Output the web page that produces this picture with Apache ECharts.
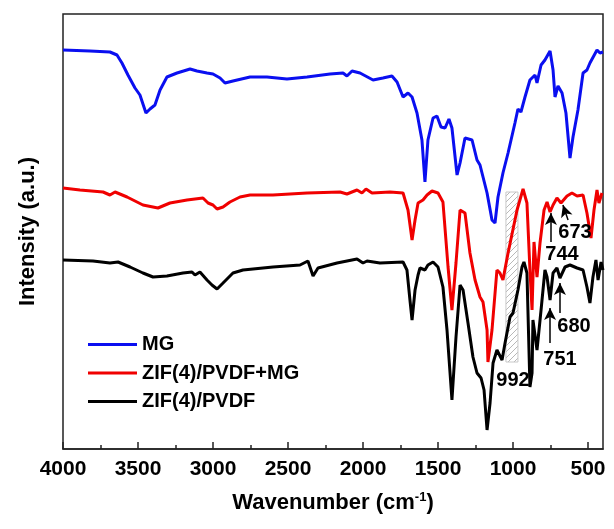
<!DOCTYPE html>
<html>
<head>
<meta charset="utf-8">
<script src="https://cdn.jsdelivr.net/npm/echarts@6/dist/echarts.min.js"></script>
<style>
  html, body { margin: 0; padding: 0; background: #fff; }
  #app { width: 614px; height: 529px; }
</style>
</head>
<body>
<div id="app"></div>
<script>
// wavenumber (cm-1) / intensity (a.u., arbitrary offset) pairs
const mgData = [
  [4000, 399], [3820, 398], [3687, 397], [3640, 394], [3607, 386], [3567, 374],
  [3520, 361], [3487, 354], [3447, 336], [3420, 340], [3387, 344], [3353, 359],
  [3307, 372], [3240, 376], [3153, 380], [3107, 378], [3040, 376], [3000, 375],
  [2953, 371], [2920, 366], [2867, 368], [2753, 372], [2640, 372], [2507, 370],
  [2373, 372], [2220, 375], [2133, 376], [2107, 373], [2073, 378], [2020, 376],
  [1933, 369], [1867, 371], [1807, 373], [1773, 367], [1733, 352], [1700, 356],
  [1673, 352], [1640, 336], [1607, 309], [1587, 267], [1567, 309], [1533, 331],
  [1507, 333], [1480, 322], [1453, 321], [1427, 330], [1407, 321], [1373, 274],
  [1353, 286], [1320, 311], [1273, 309], [1240, 289], [1220, 284], [1173, 256],
  [1140, 229], [1120, 226], [1100, 252], [1067, 276], [1033, 296], [987, 326],
  [967, 340], [947, 337], [920, 352], [887, 369], [853, 374], [840, 366],
  [813, 384], [787, 389], [753, 398], [733, 379], [720, 352], [700, 363],
  [673, 356], [647, 336], [620, 291], [600, 312], [567, 339], [533, 376],
  [507, 379], [487, 386], [440, 399], [420, 396], [400, 397]
];

const zifMgData = [
  [4000, 261], [3887, 259], [3733, 257], [3687, 254], [3653, 257], [3573, 252],
  [3467, 244], [3367, 241], [3287, 246], [3173, 249], [3067, 251], [3033, 246],
  [3000, 244], [2973, 240], [2933, 242], [2887, 247], [2820, 252], [2753, 254],
  [2600, 254], [2373, 256], [2153, 257], [2107, 255], [2040, 259], [2007, 256],
  [1980, 260], [1940, 256], [1820, 257], [1733, 256], [1700, 239], [1673, 209],
  [1653, 229], [1633, 246], [1600, 249], [1573, 254], [1540, 258], [1500, 256],
  [1467, 247], [1433, 182], [1407, 139], [1380, 186], [1353, 239], [1320, 236],
  [1287, 196], [1253, 169], [1220, 152], [1200, 147], [1173, 119], [1167, 87],
  [1140, 119], [1107, 179], [1087, 176], [1067, 169], [1033, 196], [973, 239],
  [933, 260], [907, 246], [887, 179], [873, 139], [860, 207], [840, 172],
  [820, 206], [793, 239], [773, 247], [753, 237], [733, 244], [707, 251],
  [680, 246], [640, 253], [607, 256], [573, 253], [533, 254], [507, 236],
  [480, 211], [460, 239], [440, 259], [427, 246], [407, 256]
];

const zifData = [
  [4000, 189], [3800, 188], [3687, 186], [3633, 187], [3553, 182], [3467, 176],
  [3400, 172], [3307, 173], [3200, 176], [3140, 177], [3120, 174], [3087, 177],
  [3040, 169], [3007, 164], [2973, 160], [2933, 166], [2867, 176], [2800, 179],
  [2600, 182], [2420, 184], [2367, 188], [2333, 173], [2300, 181], [2173, 186],
  [2040, 190], [2000, 186], [1973, 188], [1887, 186], [1733, 187], [1707, 179],
  [1687, 149], [1673, 129], [1653, 159], [1633, 174], [1620, 181], [1587, 179],
  [1567, 184], [1533, 187], [1500, 182], [1467, 162], [1440, 119], [1407, 49],
  [1380, 112], [1353, 164], [1333, 159], [1300, 126], [1267, 92], [1240, 76],
  [1213, 71], [1193, 59], [1173, 19], [1153, 46], [1133, 86], [1107, 99],
  [1073, 89], [1053, 106], [1020, 132], [1000, 136], [967, 159], [940, 182],
  [927, 187], [907, 176], [887, 62], [873, 76], [867, 129], [840, 99],
  [813, 139], [787, 179], [773, 172], [753, 149], [733, 176], [707, 181],
  [687, 171], [653, 182], [620, 184], [573, 181], [533, 179], [507, 162],
  [487, 146], [467, 172], [447, 189], [433, 169], [413, 187], [400, 179]
];

const seriesNames = ['MG', 'ZIF(4)/PVDF+MG', 'ZIF(4)/PVDF'];
const majorTicks = [500, 1000, 1500, 2000, 2500, 3000, 3500, 4000];
const minorTicks = [750, 1250, 1750, 2250, 2750, 3250, 3750];

// peak labels: text, label position, arrow start, arrow end
const peakLabels = [
  ['673', [587, 217], [633, 229], [667, 244]],
  ['744', [673, 195], [747, 207], [747, 236]],
  ['680', [593, 123], [687, 136], [687, 166]],
  ['751', [687, 90], [753, 106], [753, 141]],
  ['992', [1000, 69], null, null]
];
// hatched band around 992
const hatchBand = [[1047, 87], [967, 257]];

const FONT = 'Liberation Sans, Arial, sans-serif';

function hatchPattern() {
  const c = document.createElement('canvas');
  c.width = 6;
  c.height = 6;
  const ctx = c.getContext('2d');
  ctx.fillStyle = '#fff';
  ctx.fillRect(0, 0, 6, 6);
  ctx.strokeStyle = '#b8b8b8';
  ctx.lineWidth = 1;
  ctx.beginPath();
  ctx.moveTo(0, 6);
  ctx.lineTo(6, 0);
  ctx.moveTo(-3, 3);
  ctx.lineTo(3, -3);
  ctx.moveTo(3, 9);
  ctx.lineTo(9, 3);
  ctx.stroke();
  return c;
}

const chart = echarts.init(document.getElementById('app'), null, { renderer: 'canvas' });

const arrows = peakLabels
  .filter(p => p[2])
  .map(p => [{ coord: p[2] }, { coord: p[3] }]);

chart.setOption({
  animation: false,
  backgroundColor: '#fff',
  textStyle: { fontFamily: FONT },
  grid: {
    left: 63, right: 11, top: 14, bottom: 80,
    show: true, borderColor: '#222', borderWidth: 1.5
  },
  legend: {
    orient: 'vertical',
    left: 83,
    top: 329,
    itemWidth: 49,
    itemHeight: 3,
    itemGap: 7.5,
    icon: 'rect',
    data: seriesNames,
    textStyle: { fontFamily: FONT, fontSize: 20, fontWeight: 'bold', color: '#000', lineHeight: 21 }
  },
  xAxis: [{
    type: 'value',
    inverse: true,
    min: 400,
    max: 4000,
    position: 'bottom',
    splitLine: { show: false },
    axisLine: { lineStyle: { color: '#222', width: 1.5 } },
    axisTick: { inside: true, length: 7, customValues: majorTicks, lineStyle: { color: '#222', width: 1.5 } },
    axisLabel: {
      customValues: majorTicks, margin: 10,
      formatter: v => String(v),
      fontFamily: FONT, fontSize: 21, fontWeight: 'bold', color: '#000'
    },
    name: 'Wavenumber (cm{sup|-1})',
    nameLocation: 'middle',
    nameGap: 42,
    nameTextStyle: {
      fontFamily: FONT, fontSize: 22, fontWeight: 'bold', color: '#000',
      rich: { sup: { fontFamily: FONT, fontSize: 13, fontWeight: 'bold', color: '#000', verticalAlign: 'top', padding: [0, 0, 10, 0] } }
    }
  }, {
    type: 'value',
    inverse: true,
    min: 400,
    max: 4000,
    position: 'bottom',
    splitLine: { show: false },
    axisLine: { show: false },
    axisTick: { inside: true, length: 4, customValues: minorTicks, lineStyle: { color: '#222', width: 1.5 } },
    axisLabel: { show: false }
  }],
  yAxis: {
    type: 'value',
    min: 0,
    max: 435,
    splitLine: { show: false },
    axisLine: { show: false },
    axisTick: { show: false },
    axisLabel: { show: false },
    name: 'Intensity (a.u.)',
    nameLocation: 'middle',
    nameGap: 24,
    nameTextStyle: { fontFamily: FONT, fontSize: 22, fontWeight: 'bold', color: '#000' }
  },
  series: [{
    name: seriesNames[0],
    type: 'line',
    data: mgData,
    symbol: 'none',
    color: '#0a0ff0',
    lineStyle: { width: 3, color: '#0a0ff0' }
  }, {
    name: seriesNames[1],
    type: 'line',
    data: zifMgData,
    symbol: 'none',
    color: '#f00000',
    lineStyle: { width: 3, color: '#f00000' }
  }, {
    name: seriesNames[2],
    type: 'line',
    data: zifData,
    symbol: 'none',
    color: '#000',
    lineStyle: { width: 3, color: '#000' },
    z: 1,
    markArea: {
      silent: true,
      itemStyle: {
        color: { image: hatchPattern(), repeat: 'repeat' },
        borderColor: '#c8c8c8',
        borderWidth: 1
      },
      data: [[{ coord: hatchBand[0] }, { coord: hatchBand[1] }]]
    }
  }, {
    name: 'arrows',
    type: 'line',
    data: [],
    z: 5,
    markLine: {
      silent: true,
      symbol: ['none', 'arrow'],
      symbolSize: [9, 12],
      lineStyle: { color: '#000', width: 1.5, type: 'solid' },
      label: { show: false },
      data: arrows
    }
  }, {
    name: 'peaks',
    type: 'scatter',
    symbolSize: 0,
    z: 6,
    itemStyle: { opacity: 1 },
    data: peakLabels.map(p => [p[1][0], p[1][1], p[0]]),
    label: {
      show: true,
      position: 'inside',
      formatter: p => p.value[2],
      opacity: 1,
      fontFamily: FONT, fontSize: 20, fontWeight: 'bold', color: '#000'
    }
  }]
});
</script>
</body>
</html>
